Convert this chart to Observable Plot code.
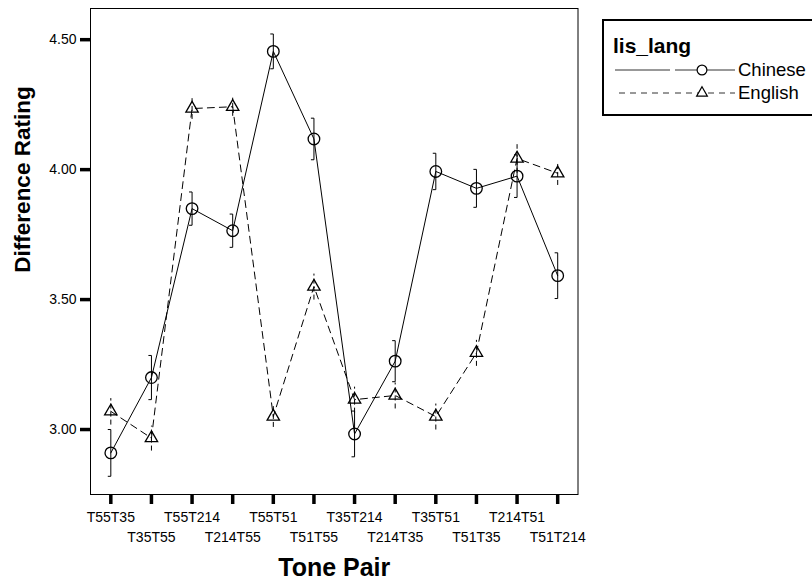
<!DOCTYPE html>
<html><head><meta charset="utf-8">
<script src="https://cdn.jsdelivr.net/npm/d3@7"></script>
<script src="https://cdn.jsdelivr.net/npm/@observablehq/plot@0.6"></script>
<style>
body{margin:0;background:#fff;}
#wrap{position:relative;width:812px;height:580px;font-family:"Liberation Sans",Arial,sans-serif;}
#legend{position:absolute;left:602px;top:19px;}
</style></head><body><div id="wrap"></div>
<script>
const pairs = ["T55T35","T35T55","T55T214","T214T55","T55T51","T51T55","T35T214","T214T35","T35T51","T51T35","T214T51","T51T214"];
const chinese    = [2.91, 3.20, 3.85, 3.765, 4.455, 4.118, 2.983, 3.263, 3.993, 3.928, 3.975, 3.592];
const chineseErr = [0.09, 0.085, 0.064, 0.064, 0.067, 0.08, 0.088, 0.079, 0.07, 0.073, 0.082, 0.088];
const english    = [3.07, 2.967, 4.235, 4.242, 3.05, 3.55, 3.115, 3.131, 3.05, 3.295, 4.043, 3.986];
const englishErr = [0.051, 0.048, 0.04, 0.035, 0.04, 0.05, 0.05, 0.05, 0.05, 0.05, 0.055, 0.045];
const yTicks = [3.0, 3.5, 4.0, 4.5];
const langs = ["Chinese", "English"];
const xTitle = "Tone Pair";
const yTitle = "Difference Rating";
const legendTitle = "lis_lang";

const rows = [];
pairs.forEach((p, i) => rows.push({i, pair: p, lang: "Chinese", v: chinese[i], e: chineseErr[i]}));
pairs.forEach((p, i) => rows.push({i, pair: p, lang: "English", v: english[i], e: englishErr[i]}));
const ch = rows.filter(d => d.lang === "Chinese");
const en = rows.filter(d => d.lang === "English");
const labels = pairs.map((p, i) => ({i, pair: p}));

const dash = "7,5";
const capW = 0.075;
const font = "Liberation Sans, Arial, sans-serif";

const chart = Plot.plot({
  width: 812, height: 580,
  marginLeft: 90, marginRight: 234.5, marginTop: 8, marginBottom: 86,
  style: {fontFamily: font, background: "white", color: "black"},
  x: {type: "linear", domain: [-0.5, 11.5], axis: null},
  y: {domain: [2.75, 4.62], axis: null},
  marks: [
    Plot.frame({stroke: "black", strokeWidth: 1}),
    Plot.axisY(yTicks, {tickSize: 10, tickPadding: 4, strokeWidth: 3.5, tickFormat: d3.format(".2f"), fontSize: 14, label: null}),
    Plot.axisX(d3.range(pairs.length), {tickSize: 10, strokeWidth: 3.5, tickFormat: () => "", label: null}),
    Plot.text(labels.filter(d => d.i % 2 === 0), {x: "i", text: "pair", frameAnchor: "bottom", dy: 23, lineAnchor: "middle", fontSize: 14}),
    Plot.text(labels.filter(d => d.i % 2 === 1), {x: "i", text: "pair", frameAnchor: "bottom", dy: 43, lineAnchor: "middle", fontSize: 14}),
    Plot.text([xTitle], {frameAnchor: "bottom", dy: 73, lineAnchor: "middle", fontSize: 25, fontWeight: "bold"}),
    Plot.text([yTitle], {frameAnchor: "left", dx: -68, dy: -72, rotate: -90, textAnchor: "middle", lineAnchor: "middle", fontSize: 22.5, fontWeight: "bold"}),
    // lines
    Plot.line(ch, {x: "i", y: "v", stroke: "black", strokeWidth: 1}),
    Plot.line(en, {x: "i", y: "v", stroke: "black", strokeWidth: 1, strokeDasharray: dash}),
    // error bars
    Plot.link(ch, {x1: "i", x2: "i", y1: d => d.v - d.e, y2: d => d.v + d.e, stroke: "black", strokeWidth: 1}),
    Plot.link(ch, {x1: d => d.i - capW, x2: "i", y1: d => d.v + d.e, y2: d => d.v + d.e, stroke: "black", strokeWidth: 1}),
    Plot.link(ch, {x1: d => d.i - capW, x2: "i", y1: d => d.v - d.e, y2: d => d.v - d.e, stroke: "black", strokeWidth: 1}),
    Plot.link(en, {x1: "i", x2: "i", y1: d => d.v - d.e, y2: d => d.v + d.e, stroke: "black", strokeWidth: 1, strokeDasharray: "5,3"}),
    // markers
    Plot.dot(ch, {x: "i", y: "v", r: 5.8, symbol: "circle", stroke: "black", fill: "none", strokeWidth: 1.3}),
    Plot.dot(en, {x: "i", y: "v", r: 4.6, symbol: "triangle", stroke: "black", fill: "none", strokeWidth: 1.3})
  ]
});
document.getElementById("wrap").appendChild(chart);

// legend
const lg = d3.select("#wrap").append("svg").attr("id", "legend").attr("width", 210).attr("height", 97)
  .style("font-family", font);
lg.append("rect").attr("x", 1).attr("y", 1).attr("width", 230).attr("height", 95).attr("fill", "white").attr("stroke", "black").attr("stroke-width", 2);
lg.append("text").attr("x", 11).attr("y", 34).attr("font-size", 21).attr("font-weight", "bold").text(legendTitle);
const rowsY = [51, 74];
langs.forEach((l, k) => {
  const y = rowsY[k];
  const g = lg.append("g").attr("stroke", "#333").attr("fill", "none").attr("stroke-width", 1);
  if (k === 1) g.attr("stroke-dasharray", "6,5");
  g.append("line").attr("x1", k ? 17 : 13).attr("x2", 68).attr("y1", y).attr("y2", y);
  g.append("line").attr("x1", 73).attr("x2", 133).attr("y1", y).attr("y2", y);
  lg.append("path").attr("transform", `translate(100,${y})`).attr("fill", "white").attr("stroke", "black").attr("stroke-width", 1.2)
    .attr("d", d3.symbol(k ? d3.symbolTriangle : d3.symbolCircle, k ? 50 : 75)());
  lg.append("text").attr("x", 136).attr("y", y + 6).attr("font-size", 18.5).text(l);
});
</script></body></html>
